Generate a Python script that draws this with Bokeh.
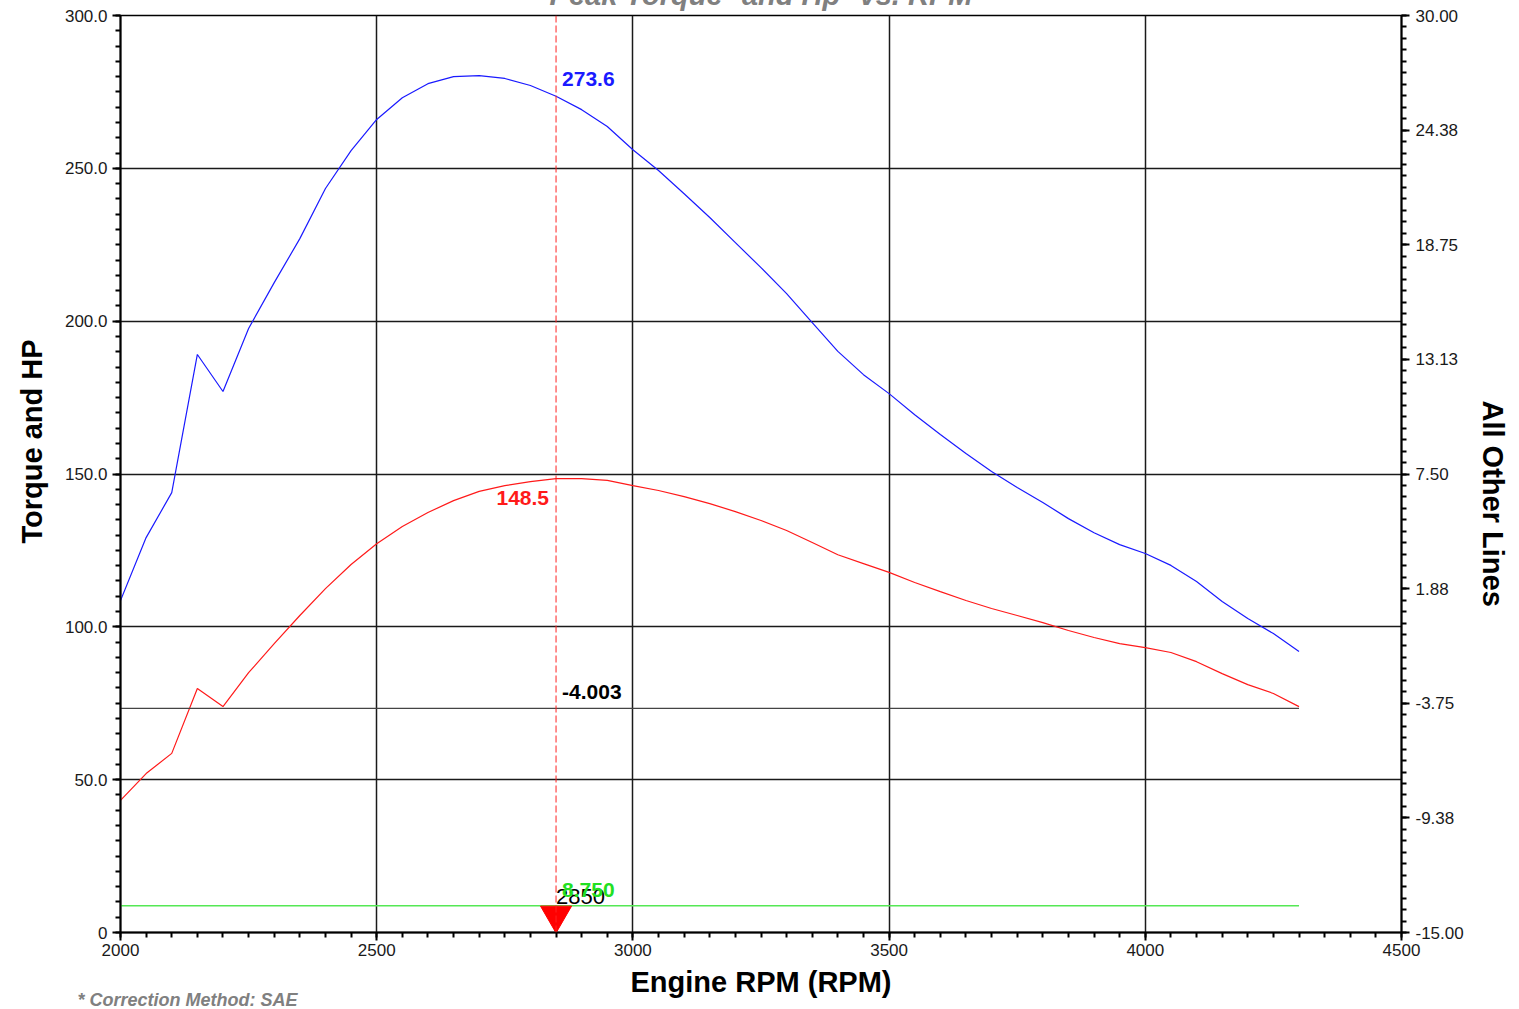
from bokeh.plotting import figure
from bokeh.models import Range1d, LinearAxis, FixedTicker, Label, Span, PrintfTickFormatter, Title
from bokeh.embed import file_html
from bokeh.resources import INLINE

# ---------------- data ----------------
rpm = [2000, 2050, 2100, 2150, 2200, 2250, 2300, 2350, 2400, 2450,
       2500, 2550, 2600, 2650, 2700, 2750, 2800, 2850, 2900, 2950,
       3000, 3050, 3100, 3150, 3200, 3250, 3300, 3350, 3400, 3450,
       3500, 3550, 3600, 3650, 3700, 3750, 3800, 3850, 3900, 3950,
       4000, 4050, 4100, 4150, 4200, 4250, 4300]
torque = [108.6, 129.2, 143.9, 189.1, 177.0, 197.6, 212.6, 227.0, 243.4, 255.8,
          266.0, 273.1, 277.7, 280.0, 280.3, 279.4, 277.1, 273.6, 269.2, 263.7,
          256.1, 249.3, 241.7, 233.9, 225.7, 217.5, 209.0, 199.5, 190.1, 182.5,
          176.3, 169.4, 162.9, 156.7, 150.8, 145.6, 140.7, 135.4, 130.8, 126.9,
          124.0, 120.1, 114.8, 108.3, 102.7, 97.8, 91.9]
hp = [43.2, 52.0, 58.6, 79.8, 73.9, 85.0, 94.5, 103.7, 112.5, 120.4,
      127.2, 132.8, 137.4, 141.3, 144.3, 146.2, 147.5, 148.5, 148.5, 147.9,
      146.2, 144.6, 142.6, 140.3, 137.7, 134.8, 131.5, 127.6, 123.6, 120.7,
      117.8, 114.5, 111.5, 108.6, 106.0, 103.7, 101.4, 98.8, 96.5, 94.5,
      93.2, 91.6, 88.6, 84.7, 81.1, 78.2, 73.9]
green_level = 8.75        # left scale
other_level = -4.003      # right scale ("All Other Lines")
cursor_rpm = 2850

x_ticks = [2000, 2500, 3000, 3500, 4000, 4500]
left_ticks = [0, 50, 100, 150, 200, 250, 300]
left_labels = ["0", "50.0", "100.0", "150.0", "200.0", "250.0", "300.0"]
right_ticks = [-15, -9.375, -3.75, 1.875, 7.5, 13.125, 18.75, 24.375, 30]
right_labels = ["-15.00", "-9.38", "-3.75", "1.88", "7.50", "13.13", "18.75", "24.38", "30.00"]

title_text = "Peak Torque* and Hp* vs. RPM"
footnote_text = "* Correction Method: SAE"

FONT = "Liberation Sans"
TOP_SHIFT = 29   # title block is pushed above the page edge, as in the reference

p = figure(width=1519, height=1009 + TOP_SHIFT, output_backend="svg", toolbar_location=None,
           x_range=Range1d(2000, 4500), y_range=Range1d(0, 300),
           min_border_left=120, min_border_right=118, min_border_top=0, min_border_bottom=77,
           styles={"margin-top": f"-{TOP_SHIFT}px"})
p.extra_y_ranges = {"right": Range1d(-15, 30)}
p.background_fill_color = "white"
p.border_fill_color = "white"
p.outline_line_color = "black"
p.outline_line_width = 1.5

# title (only its lower part shows on the page)
p.title.text = title_text
p.title.align = "center"
p.title.vertical_align = "bottom"
p.title.standoff = 10
p.title.text_font = FONT
p.title.text_font_size = "29px"
p.title.text_font_style = "bold italic"
p.title.text_color = "#808080"

# axes
xa = p.xaxis[0]
ya = p.yaxis[0]
ra = LinearAxis(y_range_name="right")
p.add_layout(ra, "right")

xa.ticker = FixedTicker(ticks=x_ticks, minor_ticks=list(range(2000, 4501, 50)))
ya.ticker = FixedTicker(ticks=left_ticks, minor_ticks=list(range(0, 301, 5)))
ra.ticker = FixedTicker(ticks=right_ticks, minor_ticks=[-15 + 0.5625 * i for i in range(81)])
ya.formatter = PrintfTickFormatter(format="%.1f")
ya.major_label_overrides = dict(zip(left_ticks, left_labels))
ra.formatter = PrintfTickFormatter(format="%.2f")
ra.major_label_overrides = dict(zip(right_ticks, right_labels))

xa.axis_label = "Engine RPM (RPM)"

for ax in (xa, ya, ra):
    ax.axis_line_color = "black"
    ax.axis_line_width = 2
    ax.major_tick_line_color = "black"
    ax.major_tick_line_width = 2
    ax.minor_tick_line_color = "black"
    ax.minor_tick_line_width = 2
    ax.major_tick_out = 8
    ax.major_tick_in = 0
    ax.minor_tick_out = 5
    ax.minor_tick_in = 0
    ax.major_label_text_font = FONT
    ax.major_label_text_font_size = "17px"
    ax.major_label_text_color = "#1a1a1a"
    ax.axis_label_text_font = FONT
    ax.axis_label_text_font_style = "bold"
    ax.axis_label_text_font_size = "29px"
    ax.axis_label_text_color = "black"

xa.major_label_standoff = 3
ya.major_label_standoff = 5
ra.major_label_standoff = 6
xa.axis_label_standoff = 7

# side titles for the y axes (placed off-centre like the reference)
left_title = Title(text="Torque and HP", align="left", vertical_align="middle",
                   offset=389, standoff=26, text_font=FONT, text_font_size="29px",
                   text_font_style="bold", text_color="black")
p.add_layout(left_title, "left")
right_title = Title(text="All Other Lines", align="left", vertical_align="middle",
                    offset=385, standoff=18, text_font=FONT, text_font_size="29px",
                    text_font_style="bold", text_color="black")
p.add_layout(right_title, "right")

# footnote under the x axis
foot = Title(text=footnote_text, align="left", vertical_align="top",
             offset=-43, standoff=-22, text_font=FONT, text_font_size="18px",
             text_font_style="bold italic", text_color="#808080")
p.add_layout(foot, "below")

# grid
for g in (p.xgrid[0], p.ygrid[0]):
    g.grid_line_color = "#1a1a1a"
    g.grid_line_width = 1.5

# lines
p.line(rpm, torque, line_color="#1a1aff", line_width=1.2)
p.line(rpm, hp, line_color="#ff1a1a", line_width=1.2)
p.line([rpm[0], rpm[-1]], [green_level, green_level], line_color="#55e855", line_width=1.5)
p.line([rpm[0], rpm[-1]], [other_level, other_level], y_range_name="right",
       line_color="#444444", line_width=1.3)

# cursor
p.add_layout(Span(location=cursor_rpm, dimension="height", line_color="#ff2020",
                  line_width=1, line_dash="7 3"))
p.scatter([cursor_rpm], [5.7], marker="inverted_triangle", size=31,
          fill_color="#ff0000", line_color="#ff0000")

i = rpm.index(cursor_rpm)
lab_kw = dict(text_font=FONT, text_font_size="21px", text_baseline="middle")
p.add_layout(Label(x=cursor_rpm, y=torque[i], x_offset=6, y_offset=17,
                   text=f"{torque[i]:.1f}", text_color="#1a1aff", text_font_style="bold", **lab_kw))
p.add_layout(Label(x=cursor_rpm, y=hp[i], x_offset=-7, y_offset=-19, text_align="right",
                   text=f"{hp[i]:.1f}", text_color="#ff1a1a", text_font_style="bold", **lab_kw))
p.add_layout(Label(x=cursor_rpm, y=other_level, y_range_name="right", x_offset=6, y_offset=16,
                   text=f"{other_level:.3f}", text_color="black", text_font_style="bold", **lab_kw))
p.add_layout(Label(x=cursor_rpm, y=0, x_offset=0, y_offset=36,
                   text=f"{cursor_rpm}", text_color="black", text_font_style="normal",
                   text_font=FONT, text_font_size="22px", text_baseline="middle"))
p.add_layout(Label(x=cursor_rpm, y=green_level, x_offset=6, y_offset=16,
                   text=f"{green_level:.3f}", text_color="#22e022", text_font_style="bold", **lab_kw))

open("out.html", "w").write(file_html(p, INLINE))
